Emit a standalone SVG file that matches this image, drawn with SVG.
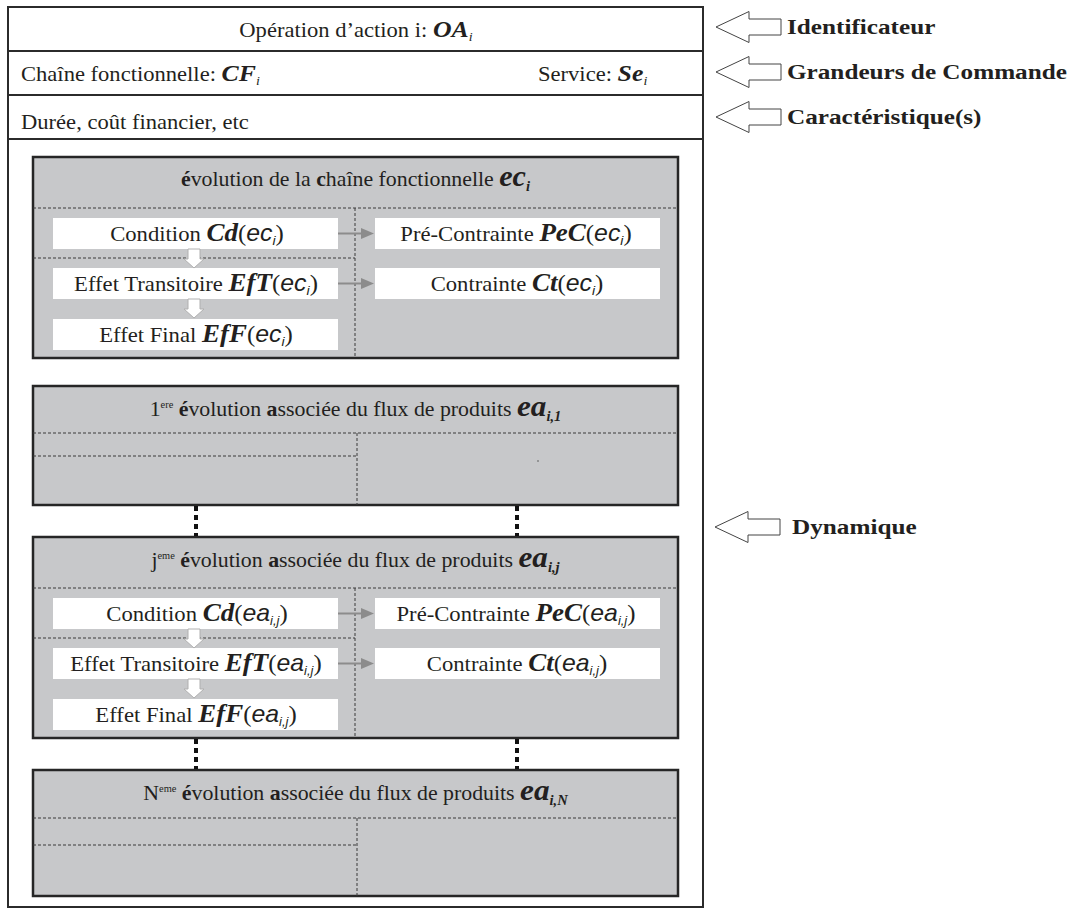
<svg xmlns="http://www.w3.org/2000/svg" width="1072" height="916" viewBox="0 0 1072 916">
<defs>
<style>
.t{font-family:"Liberation Serif","Times New Roman",serif;fill:#231f20;font-size:21px}
.s{font-family:"Liberation Sans",Arial,sans-serif;font-style:italic;font-size:23px}
.si{font-family:"Liberation Sans",Arial,sans-serif;font-style:italic;font-size:13px}
.sj{font-family:"Liberation Sans",Arial,sans-serif;font-style:italic;font-size:12px}
.p{font-size:23px}
.b{font-weight:bold}
.bi{font-weight:bold;font-style:italic}
.k{font-weight:bold;font-style:italic;font-size:25px}
.it{font-style:italic}
.sup{font-size:10px}
.frame{fill:#fff;stroke:#2b2b2b;stroke-width:2}
.row{stroke:#2b2b2b;stroke-width:2}
.panel{fill:#c7c8ca;stroke:#262626;stroke-width:2.5}
.dash{stroke:#3a3a3a;stroke-width:1;stroke-dasharray:3 2;fill:none}
.cell{fill:#fff}
.flow{stroke:#8c8c8c;stroke-width:2;fill:none}
.flowhead{fill:#8c8c8c}
.down{fill:#fff;stroke:#b0b0b0;stroke-width:1}
.link{stroke:#111;stroke-width:4;stroke-dasharray:5 4;fill:none}
.callout{fill:#fff;stroke:#444;stroke-width:1}
.lab{font-weight:bold;font-size:21px}
</style>
<path id="callout-shape" d="M0,0 L33,-15.5 L33,-8 L65,-8 L65,8 L33,8 L33,15.5 Z"/>
<path id="down-shape" d="M-6,0 H6 V10 H10 L0,19 L-10,10 H-6 Z"/>
<path id="flow-head" d="M0,-5.5 L13,0 L0,5.5 Z"/>
</defs>

<!-- outer record frame with its three header rows -->
<g id="record">
  <rect class="frame" x="8" y="7" width="695" height="900"/>
  <line class="row" x1="8" y1="51" x2="703" y2="51"/>
  <line class="row" x1="8" y1="95" x2="703" y2="95"/>
  <line class="row" x1="8" y1="139" x2="703" y2="139"/>
</g>

<g id="row-identifier">
  <text class="t" transform="translate(356,37) scale(1.075,1)" text-anchor="middle">Opération d’action i: <tspan class="bi" font-size="24">OA</tspan><tspan class="it" font-size="13" dy="4">i</tspan></text>
</g>
<g id="row-commands">
  <text class="t" transform="translate(21,81) scale(1.075,1)">Chaîne fonctionnelle: <tspan class="bi" font-size="24">CF</tspan><tspan class="it" font-size="13" dy="4">i</tspan></text>
  <text class="t" transform="translate(538,81) scale(1.075,1)">Service: <tspan class="bi" font-size="24">Se</tspan><tspan class="it" font-size="13" dy="4">i</tspan></text>
</g>
<g id="row-characteristics">
  <text class="t" transform="translate(21,129) scale(1.075,1)">Durée, coût financier, etc</text>
</g>

<!-- side callouts -->
<g id="callout-identificateur">
  <use href="#callout-shape" class="callout" x="716" y="27"/>
  <text class="t lab" transform="translate(787,34) scale(1.2,1)">Identificateur</text>
</g>
<g id="callout-grandeurs">
  <use href="#callout-shape" class="callout" x="716" y="72"/>
  <text class="t lab" transform="translate(787,79) scale(1.2,1)">Grandeurs de Commande</text>
</g>
<g id="callout-caracteristiques">
  <use href="#callout-shape" class="callout" x="716" y="117"/>
  <text class="t lab" transform="translate(787,124) scale(1.2,1)">Caractéristique(s)</text>
</g>
<g id="callout-dynamique">
  <use href="#callout-shape" class="callout" x="715" y="527"/>
  <text class="t lab" transform="translate(792,534) scale(1.2,1)">Dynamique</text>
</g>

<!-- evolution of the functional chain -->
<g id="panel-ec">
  <rect class="panel" x="33" y="157" width="645" height="201"/>
  <line class="dash" x1="33" y1="208" x2="678" y2="208"/>
  <line class="dash" x1="355" y1="208" x2="355" y2="358"/>
  <line class="dash" x1="33" y1="258" x2="355" y2="258"/>
  <text class="t" transform="translate(355.5,186) scale(1.04,1)" text-anchor="middle"><tspan class="b">é</tspan>volution de la <tspan class="b">c</tspan>haîne fonctionnelle <tspan class="bi" font-size="29">ec</tspan><tspan class="bi" font-size="14" dy="5">i</tspan></text>
  <rect class="cell" x="53" y="218" width="285" height="31"/>
  <rect class="cell" x="53" y="268" width="285" height="31"/>
  <rect class="cell" x="53" y="319" width="285" height="31"/>
  <rect class="cell" x="375" y="218" width="285" height="31"/>
  <rect class="cell" x="375" y="268" width="285" height="31"/>
  <text class="t" transform="translate(197,241) scale(1.08,1)" text-anchor="middle">Condition <tspan class="k">Cd</tspan><tspan class="p">(</tspan><tspan class="s">ec</tspan><tspan class="si" dy="4">i</tspan><tspan class="p" dy="-4">)</tspan></text>
  <text class="t" transform="translate(196,291) scale(1.08,1)" text-anchor="middle">Effet Transitoire <tspan class="k">EfT</tspan><tspan class="p">(</tspan><tspan class="s">ec</tspan><tspan class="si" dy="4">i</tspan><tspan class="p" dy="-4">)</tspan></text>
  <text class="t" transform="translate(196,342) scale(1.08,1)" text-anchor="middle">Effet Final <tspan class="k">EfF</tspan><tspan class="p">(</tspan><tspan class="s">ec</tspan><tspan class="si" dy="4">i</tspan><tspan class="p" dy="-4">)</tspan></text>
  <text class="t" transform="translate(516,241) scale(1.08,1)" text-anchor="middle">Pré-Contrainte <tspan class="k">PeC</tspan><tspan class="p">(</tspan><tspan class="s">ec</tspan><tspan class="si" dy="4">i</tspan><tspan class="p" dy="-4">)</tspan></text>
  <text class="t" transform="translate(517,291) scale(1.08,1)" text-anchor="middle">Contrainte <tspan class="k">Ct</tspan><tspan class="p">(</tspan><tspan class="s">ec</tspan><tspan class="si" dy="4">i</tspan><tspan class="p" dy="-4">)</tspan></text>
</g>

<!-- first associated product-flow evolution -->
<g id="panel-ea1">
  <rect class="panel" x="33" y="386" width="645" height="119"/>
  <line class="dash" x1="33" y1="433" x2="678" y2="433"/>
  <line class="dash" x1="357" y1="433" x2="357" y2="505"/>
  <line class="dash" x1="33" y1="456" x2="357" y2="456"/>
  <circle cx="538" cy="461" r="0.8" fill="#555"/>
  <text class="t" transform="translate(355.5,416) scale(1.04,1)" text-anchor="middle">1<tspan class="sup" dy="-8">ere</tspan><tspan dy="8"> </tspan><tspan class="b">é</tspan>volution <tspan class="b">a</tspan>ssociée du flux de produits <tspan class="bi" font-size="30">ea</tspan><tspan class="bi" font-size="14" dy="5">i,1</tspan></text>
</g>

<!-- j-th associated product-flow evolution -->
<g id="panel-eaj">
  <rect class="panel" x="33" y="537" width="645" height="201"/>
  <line class="dash" x1="33" y1="588" x2="678" y2="588"/>
  <line class="dash" x1="355" y1="588" x2="355" y2="738"/>
  <line class="dash" x1="33" y1="638" x2="355" y2="638"/>
  <text class="t" transform="translate(355.5,567) scale(1.04,1)" text-anchor="middle">j<tspan class="sup" dy="-8">eme</tspan><tspan dy="8"> </tspan><tspan class="b">é</tspan>volution <tspan class="b">a</tspan>ssociée du flux de produits <tspan class="bi" font-size="30">ea</tspan><tspan class="bi" font-size="14" dy="5">i,j</tspan></text>
  <rect class="cell" x="53" y="598" width="285" height="31"/>
  <rect class="cell" x="53" y="648" width="285" height="31"/>
  <rect class="cell" x="53" y="699" width="285" height="31"/>
  <rect class="cell" x="375" y="598" width="285" height="31"/>
  <rect class="cell" x="375" y="648" width="285" height="31"/>
  <text class="t" transform="translate(197,621) scale(1.08,1)" text-anchor="middle">Condition <tspan class="k">Cd</tspan><tspan class="p">(</tspan><tspan class="s">ea</tspan><tspan class="sj" dy="4">i,j</tspan><tspan class="p" dy="-4">)</tspan></text>
  <text class="t" transform="translate(196,671) scale(1.08,1)" text-anchor="middle">Effet Transitoire <tspan class="k">EfT</tspan><tspan class="p">(</tspan><tspan class="s">ea</tspan><tspan class="sj" dy="4">i,j</tspan><tspan class="p" dy="-4">)</tspan></text>
  <text class="t" transform="translate(196,722) scale(1.08,1)" text-anchor="middle">Effet Final <tspan class="k">EfF</tspan><tspan class="p">(</tspan><tspan class="s">ea</tspan><tspan class="sj" dy="4">i,j</tspan><tspan class="p" dy="-4">)</tspan></text>
  <text class="t" transform="translate(516,621) scale(1.08,1)" text-anchor="middle">Pré-Contrainte <tspan class="k">PeC</tspan><tspan class="p">(</tspan><tspan class="s">ea</tspan><tspan class="sj" dy="4">i,j</tspan><tspan class="p" dy="-4">)</tspan></text>
  <text class="t" transform="translate(517,671) scale(1.08,1)" text-anchor="middle">Contrainte <tspan class="k">Ct</tspan><tspan class="p">(</tspan><tspan class="s">ea</tspan><tspan class="sj" dy="4">i,j</tspan><tspan class="p" dy="-4">)</tspan></text>
</g>

<!-- N-th associated product-flow evolution -->
<g id="panel-eaN">
  <rect class="panel" x="33" y="770" width="645" height="126"/>
  <line class="dash" x1="33" y1="818" x2="678" y2="818"/>
  <line class="dash" x1="357" y1="818" x2="357" y2="896"/>
  <line class="dash" x1="33" y1="845" x2="357" y2="845"/>
  <text class="t" transform="translate(355.5,800) scale(1.04,1)" text-anchor="middle">N<tspan class="sup" dy="-8">eme</tspan><tspan dy="8"> </tspan><tspan class="b">é</tspan>volution <tspan class="b">a</tspan>ssociée du flux de produits <tspan class="bi" font-size="30">ea</tspan><tspan class="bi" font-size="14" dy="5">i,N</tspan></text>
</g>

<!-- connectors: inner flows and dotted links between panels -->
<g id="connectors">
  <line class="flow" x1="338" y1="233.5" x2="362" y2="233.5"/>
  <use href="#flow-head" class="flowhead" x="361" y="233.5"/>
  <line class="flow" x1="338" y1="283.5" x2="362" y2="283.5"/>
  <use href="#flow-head" class="flowhead" x="361" y="283.5"/>
  <use href="#down-shape" class="down" x="194" y="249"/>
  <use href="#down-shape" class="down" x="194" y="299"/>

  <line class="flow" x1="338" y1="613.5" x2="362" y2="613.5"/>
  <use href="#flow-head" class="flowhead" x="361" y="613.5"/>
  <line class="flow" x1="338" y1="663.5" x2="362" y2="663.5"/>
  <use href="#flow-head" class="flowhead" x="361" y="663.5"/>
  <use href="#down-shape" class="down" x="194" y="629"/>
  <use href="#down-shape" class="down" x="194" y="679"/>

  <line class="link" x1="196" y1="506" x2="196" y2="536"/>
  <line class="link" x1="517" y1="506" x2="517" y2="536"/>
  <line class="link" x1="196" y1="739" x2="196" y2="769"/>
  <line class="link" x1="517" y1="739" x2="517" y2="769"/>
</g>
</svg>
